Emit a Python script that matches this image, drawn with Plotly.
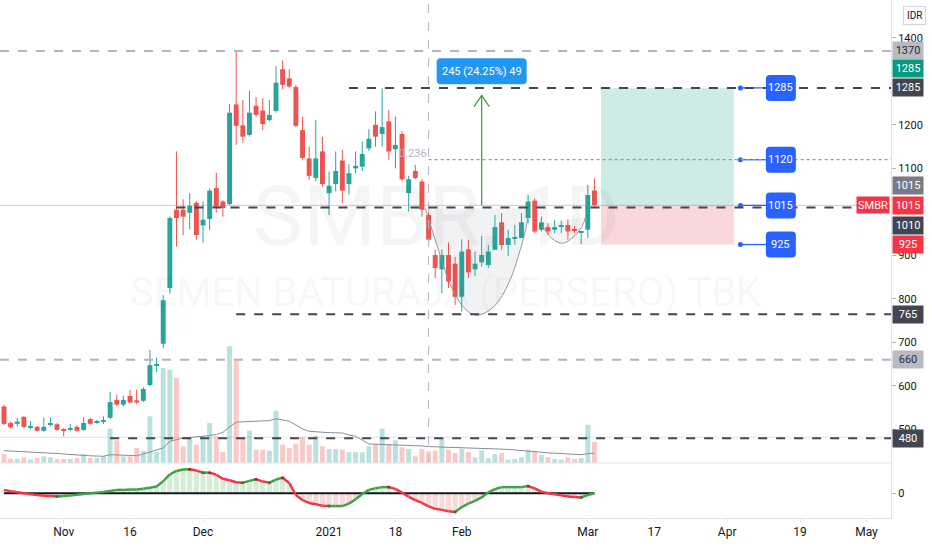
import plotly.graph_objects as go

# ---------------- data ----------------
opens = [553, 515, 513, 529, 504, 506, 497, 512, 512, 501, 500, 506, 499, 524, 516, 519, 527, 568, 557, 577,
         567, 566, 602, 646, 697, 825, 1005, 1005, 998, 1021, 969, 984, 1055, 1024, 1018, 1247, 1199, 1177, 1244, 1233,
         1211, 1232, 1328, 1307, 1287, 1188, 1123, 1078, 1139, 1043, 1064, 1118, 1064, 1100, 1104, 1146, 1200, 1179, 1208, 1144,
         1179, 1043, 1094, 1070, 993, 901, 868, 901, 881, 805, 914, 868, 884, 878, 913, 976, 924, 940, 940, 986,
         1026, 959, 965, 959, 966, 970, 960, 952, 959, 1049]
highs = [556, 518, 526, 531, 520, 508, 527, 527, 515, 503, 513, 510, 528, 527, 522, 530, 586, 580, 578, 591,
         591, 598, 683, 665, 809, 990, 1139, 1029, 1043, 1025, 1024, 1054, 1090, 1027, 1248, 1368, 1257, 1279, 1264, 1261,
         1257, 1335, 1348, 1328, 1292, 1219, 1150, 1211, 1173, 1093, 1139, 1143, 1110, 1139, 1162, 1190, 1231, 1284, 1234, 1219,
         1185, 1083, 1108, 1075, 1000, 914, 914, 930, 897, 937, 936, 909, 945, 924, 993, 997, 959, 970, 997, 1039,
         1032, 989, 974, 981, 980, 983, 968, 955, 1062, 1077]
lows = [510, 503, 507, 503, 501, 495, 495, 507, 497, 484, 497, 495, 497, 511, 513, 513, 524, 553, 553, 560,
        558, 563, 599, 632, 687, 812, 920, 947, 960, 936, 929, 958, 998, 989, 1015, 1154, 1159, 1173, 1218, 1188,
        1208, 1228, 1282, 1285, 1195, 1120, 1074, 1070, 1058, 993, 1047, 1020, 1039, 1089, 1094, 1140, 1150, 1150, 1120, 1100,
        1070, 1001, 1075, 989, 928, 848, 813, 825, 786, 771, 848, 852, 874, 871, 913, 913, 899, 924, 940, 974,
        951, 955, 947, 951, 951, 936, 951, 926, 940, 1012]
closes = [513, 505, 518, 506, 506, 497, 506, 514, 499, 497, 502, 497, 515, 513, 518, 521, 563, 557, 568, 562,
          562, 593, 648, 650, 797, 986, 986, 989, 1014, 947, 982, 1049, 1012, 1009, 1228, 1198, 1173, 1228, 1223, 1202,
          1223, 1297, 1292, 1288, 1198, 1124, 1083, 1123, 1064, 1060, 1094, 1049, 1089, 1106, 1133, 1168, 1173, 1195, 1139, 1154,
          1075, 1075, 1078, 1005, 936, 871, 901, 840, 805, 909, 861, 881, 901, 909, 965, 924, 940, 942, 976, 1024,
          955, 976, 955, 965, 969, 955, 958, 954, 1039, 1015]
volumes = [9, 4.3, 4.3, 5.7, 3.3, 5, 6.7, 5.7, 4, 4, 4, 5, 9, 5, 5, 6.7, 34.3, 22.7, 6.7, 6.7,
           15, 12.3, 46.7, 11, 95, 93.3, 85, 16.7, 24.3, 18.3, 26.7, 40, 26.7, 11, 116.7, 102.3, 25, 32.3, 13.3, 13.3,
           12.3, 52.3, 18.3, 15, 19, 26, 18.2, 27.3, 16.7, 14, 14, 13.3, 10.7, 10.7, 10.7, 16.7, 19, 34.3, 19, 22.7,
           15.7, 14, 6.7, 14, 11.7, 12.3, 25, 13.3, 10, 14.3, 11, 5.7, 12.7, 5, 9, 10, 3.3, 4, 5.7, 13.3,
           12.3, 8.3, 5.7, 4, 3.3, 5.7, 4, 5, 38.3, 21]
vol_ma = [12.3, 12, 11.7, 11.4, 11.2, 11, 10.5, 10, 9.5, 9, 8.3, 8, 7.6, 7.2, 7, 6.7, 8.3, 8, 7.6, 7.4,
          7.3, 9, 11, 12.5, 15, 21.7, 23, 25, 25.5, 26, 26.7, 27.5, 28.5, 30.7, 36, 40.7, 41.2, 41.7, 41.9, 42.1,
          42.3, 44.3, 43, 41.7, 38, 34, 31.7, 31, 30.5, 30.3, 30.2, 30, 28, 26.7, 23, 19, 18.8, 18.6, 18.5, 18.4,
          18.3, 17.8, 17.4, 17, 16.5, 16, 15.7, 15.6, 15.5, 15.3, 15.1, 15, 14.8, 14.6, 14.5, 14.3, 13.6, 13, 12.3, 11.7,
          11, 10.6, 10.2, 9.8, 9.4, 9, 8.6, 8.3, 9.5, 9.7]
osc = [10, 6, 3, 0, -3, -5, -7, -8, -9, -8, -6, -4, -2, 0, 2, 4, 7, 10, 10, 11,
       11, 13, 16, 20, 35, 55, 65, 69, 70, 66, 60, 60, 54, 42, 38, 32, 31, 36, 41, 34,
       31, 40, 45, 30, -5, -20, -28, -32, -36, -37, -37, -37, -30, -17, -2, 10, 15, 18, 18, 13,
       2, -10, -20, -28, -38, -45, -48, -52, -54, -40, -30, -22, -12, 3, 12, 18, 18, 18, 18, 21,
       14, 5, 0, -3, -6, -9, -11, -12, -5, 0]

tick_pos = [9, 19, 30, 49, 59, 69, 88, 98, 109, 120, 130]
tick_txt = ["Nov", "16", "Dec", "2021", "18", "Feb", "Mar", "17", "Apr", "19", "May"]
price_ticks = [500, 600, 700, 800, 900, 1100, 1200, 1400]

dark_levels = [1285, 1010, 765, 480]
dark_starts = [52, 26, 35, 16]
light_levels = [1370, 660]
fib_level = 1120
last_price = 1015
entry, target, stop = 1015, 1285, 925
pos_start, pos_end = 90, 110
target_levels = [1285, 1120, 1015, 925]
measure_text = "245 (24.25%) 49"
measure_bar = 72
measure_to = 1268
measure_label_y = 1323
cup_x = [63.5, 65.5, 67.2, 69.2, 71.0, 72.5, 74.3, 76.3, 77.5, 78.5, 79.2]
cup_y = [1008, 912, 836, 782, 763, 768, 790, 844, 897, 951, 1008]
handle_x = [81.0, 82.6, 84.2, 85.8, 87.1, 87.7]
handle_y = [972, 939, 928, 942, 966, 989]
vline_bar = 64

# ---------------- styling ----------------
FONT = "Roboto, Liberation Sans, sans-serif"
UP, DN = "#26a69a", "#ef5350"
UPV, DNV = "rgba(38,166,154,0.32)", "rgba(239,83,80,0.32)"
N = len(closes)
idx = list(range(N))
up = [c >= o for o, c in zip(opens, closes)]
X0, X1 = -0.6, 133.7
P0, P1 = 423, 1487
PANE = 0.1062
LABEL_BAR = 117.1


def rounded(w, h, r):
    a, b = w / 2, h / 2
    return (f"M {-a + r},{-b} L {a - r},{-b} Q {a},{-b} {a},{-b + r} L {a},{b - r} Q {a},{b} {a - r},{b} "
            f"L {-a + r},{b} Q {-a},{b} {-a},{b - r} L {-a},{-b + r} Q {-a},{-b} {-a + r},{-b} Z")


fig = go.Figure()

# volume
fig.add_trace(go.Bar(x=idx, y=volumes, width=0.75, yaxis="y2",
                     marker=dict(color=[UPV if u else DNV for u in up], line=dict(width=0))))
fig.add_trace(go.Scatter(x=idx, y=vol_ma, yaxis="y2", mode="lines",
                         line=dict(color="#8a8d96", width=1)))

# cup & handle drawings
fig.add_trace(go.Scatter(x=cup_x, y=cup_y, mode="lines", line=dict(color="#9598a1", width=1, shape="spline"),
                         fill="toself", fillcolor="rgba(120,123,134,0.10)"))
fig.add_trace(go.Scatter(x=handle_x, y=handle_y, mode="lines", line=dict(color="#9598a1", width=1, shape="spline"),
                         fill="toself", fillcolor="rgba(120,123,134,0.08)"))

# candles: wicks + bodies
for direction, col in ((True, UP), (False, DN)):
    wx, wy = [], []
    for i in idx:
        if up[i] == direction:
            wx += [i, i, None]
            wy += [lows[i], highs[i], None]
    fig.add_trace(go.Scatter(x=wx, y=wy, mode="lines", line=dict(color=col, width=1)))
    bx = [i for i in idx if up[i] == direction]
    fig.add_trace(go.Bar(x=bx, y=[max(abs(closes[i] - opens[i]), 2.5) for i in bx],
                         base=[min(opens[i], closes[i]) for i in bx], width=0.74,
                         marker=dict(color=col, line=dict(width=0))))

# oscillator pane
fig.add_trace(go.Bar(x=idx, y=osc, yaxis="y3", width=0.8,
                     marker=dict(color=["rgba(76,175,80,0.22)" if v >= 0 else "rgba(239,83,80,0.22)" for v in osc],
                                 line=dict(width=0))))
fig.add_trace(go.Scatter(x=[0, N - 1], y=[0, 0], yaxis="y3", mode="lines", line=dict(color="#131722", width=2)))
gx, gy, rx, ry = [], [], [], []
turn_x, turn_y, turn_c = [], [], []
prev_rise = None
for i in range(1, N):
    rise = osc[i] >= osc[i - 1]
    if rise:
        gx += [i - 1, i, None]; gy += [osc[i - 1], osc[i], None]
    else:
        rx += [i - 1, i, None]; ry += [osc[i - 1], osc[i], None]
    if prev_rise is not None and rise != prev_rise:
        turn_x.append(i - 1); turn_y.append(osc[i - 1]); turn_c.append("#2e7d32" if rise else "#b71c1c")
    prev_rise = rise
fig.add_trace(go.Scatter(x=gx, y=gy, yaxis="y3", mode="lines", line=dict(color="#43a047", width=2.5)))
fig.add_trace(go.Scatter(x=rx, y=ry, yaxis="y3", mode="lines", line=dict(color="#f23645", width=2.5)))
fig.add_trace(go.Scatter(x=turn_x, y=turn_y, yaxis="y3", mode="markers",
                         marker=dict(color=turn_c, size=3)))

# measurement arrow
fig.add_trace(go.Scatter(x=[measure_bar, measure_bar], y=[entry, measure_to], mode="lines",
                         line=dict(color="#43a047", width=1.3)))
fig.add_trace(go.Scatter(x=[measure_bar - 1.15, measure_bar, measure_bar + 1.15],
                         y=[measure_to - 26, measure_to, measure_to - 26], mode="lines",
                         line=dict(color="#43a047", width=1.3)))

# blue target connectors
for lv in target_levels:
    fig.add_trace(go.Scatter(x=[111, 115], y=[lv, lv], mode="lines", line=dict(color="#2962ff", width=1.3)))
fig.add_trace(go.Scatter(x=[111] * len(target_levels), y=target_levels, mode="markers",
                         marker=dict(color="#2962ff", size=5)))

shapes = []
# position tool
shapes.append(dict(type="rect", xref="x", yref="y", x0=pos_start, x1=pos_end, y0=entry, y1=target,
                   fillcolor="rgba(8,153,129,0.2)", line=dict(width=0), layer="below"))
shapes.append(dict(type="rect", xref="x", yref="y", x0=pos_start, x1=pos_end, y0=stop, y1=entry,
                   fillcolor="rgba(242,54,69,0.2)", line=dict(width=0), layer="below"))
# price line
shapes.append(dict(type="line", xref="x", yref="y", x0=X0, x1=X1, y0=last_price, y1=last_price,
                   line=dict(color="rgba(242,54,69,0.35)", width=1), layer="below"))
shapes.append(dict(type="line", xref="x", yref="y", x0=X0, x1=X1, y0=482, y1=482,
                   line=dict(color="#dfe1e6", width=1), layer="below"))
# vertical dashed line
shapes.append(dict(type="line", xref="x", yref="paper", x0=vline_bar, x1=vline_bar, y0=PANE, y1=1,
                   line=dict(color="#b2b5be", width=1, dash="dash")))
for lv in light_levels:
    shapes.append(dict(type="line", xref="x", yref="y", x0=X0, x1=X1, y0=lv, y1=lv,
                       line=dict(color="#b2b5be", width=2, dash="dash")))
for lv, st in zip(dark_levels, dark_starts):
    shapes.append(dict(type="line", xref="x", yref="y", x0=st, x1=X1, y0=lv, y1=lv,
                       line=dict(color="#434651", width=2, dash="dash")))
shapes.append(dict(type="line", xref="x", yref="y", x0=vline_bar, x1=X1, y0=fib_level, y1=fib_level,
                   line=dict(color="#9598a1", width=1.3, dash="dot")))
# pane separator
shapes.append(dict(type="line", xref="paper", yref="paper", x0=0, x1=1, y0=PANE, y1=PANE,
                   line=dict(color="#e0e3eb", width=1)))
# rounded label boxes
for lv in target_levels:
    shapes.append(dict(type="path", xref="x", yref="y", xsizemode="pixel", ysizemode="pixel",
                       xanchor=LABEL_BAR, yanchor=lv, path=rounded(30, 26, 4),
                       fillcolor="#2962ff", line=dict(width=0)))
shapes.append(dict(type="path", xref="x", yref="y", xsizemode="pixel", ysizemode="pixel",
                   xanchor=measure_bar, yanchor=measure_label_y, path=rounded(90, 26, 4),
                   fillcolor="#2196f3", line=dict(width=0)))

annotations = []
# watermark
annotations.append(dict(xref="paper", yref="paper", x=0.49, y=1 - 165 / 518, text="SMBR, 1D", showarrow=False,
                        font=dict(family=FONT, size=84, color="rgba(19,23,34,0.045)")))
annotations.append(dict(xref="paper", yref="paper", x=0.5, y=1 - 292 / 518, text="SEMEN BATURAJA (PERSERO) TBK",
                        showarrow=False, font=dict(family=FONT, size=40, color="rgba(19,23,34,0.045)")))
# fib label
annotations.append(dict(xref="x", yref="y", x=61.7, y=1135, text="0.236", showarrow=False,
                        font=dict(family=FONT, size=11, color="#b2b5be")))
# measurement label
annotations.append(dict(xref="x", yref="y", x=measure_bar, y=measure_label_y, text=measure_text, showarrow=False,
                        font=dict(family=FONT, size=11, color="white")))
# blue target labels
for lv in target_levels:
    annotations.append(dict(xref="x", yref="y", x=LABEL_BAR, y=lv, text=str(lv), showarrow=False,
                            font=dict(family=FONT, size=11, color="white")))
# SMBR tag
annotations.append(dict(xref="paper", yref="y", x=1, y=last_price, xanchor="right", xshift=-1, text="SMBR",
                        showarrow=False, bgcolor="#f23645", width=30, height=14, borderpad=1,
                        font=dict(family=FONT, size=11, color="white")))
# axis tags
tag_values = [1370, 1285, 1285, 1015, 1015, 1010, 925, 765, 660, 480]
tag_bg = ["#b8bbc2", "#089981", "#434651", "#787b86", "#f23645", "#434651", "#f23645", "#434651", "#b8bbc2", "#434651"]
tag_fg = ["#2a2e39", "white", "white", "white", "white", "white", "white", "white", "#2a2e39", "white"]
tag_shift = [0, 19, 0, 20, 0, -18, 0, 0, 0, 0]
for v, bg, fg, ys in zip(tag_values, tag_bg, tag_fg, tag_shift):
    annotations.append(dict(xref="paper", yref="y", x=1, y=v, xanchor="left", xshift=1, yshift=ys,
                            text=str(v), showarrow=False, bgcolor=bg, width=28, height=15, borderpad=1,
                            font=dict(family=FONT, size=11, color=fg)))
annotations.append(dict(xref="paper", yref="paper", x=1, y=1, xanchor="left", yanchor="top", xshift=12, yshift=-6,
                        text="IDR", showarrow=False, bgcolor="white", bordercolor="#d1d4dc", borderwidth=1,
                        borderpad=3, font=dict(family=FONT, size=10, color="#131722")))

fig.update_layout(
    width=932, height=550, margin=dict(l=0, r=41, t=0, b=32),
    plot_bgcolor="white", paper_bgcolor="white", showlegend=False, barmode="overlay",
    font=dict(family=FONT, size=11, color="#131722"),
    shapes=shapes, annotations=annotations,
    xaxis=dict(range=[X0, X1], anchor="y3", tickvals=tick_pos, ticktext=tick_txt, showgrid=False,
               zeroline=False, showline=True, linecolor="#e0e3eb", ticks="outside", ticklen=3,
               tickcolor="#e0e3eb", tickfont=dict(size=12, color="#131722")),
    yaxis=dict(domain=[PANE, 1], range=[P0, P1], side="right", anchor="x", tickvals=price_ticks,
               showgrid=False, zeroline=False, showline=True, linecolor="#e0e3eb", ticks="outside",
               ticklen=4, tickcolor="#b2b5be", tickfont=dict(size=11, color="#131722")),
    yaxis2=dict(overlaying="y", range=[0, 463], visible=False),
    yaxis3=dict(domain=[0, PANE], range=[-71.6, 88], side="right", anchor="x", tickvals=[0], ticktext=["0"],
                showgrid=False, zeroline=False, showline=True, linecolor="#e0e3eb", ticks="outside",
                ticklen=4, tickcolor="#b2b5be", tickfont=dict(size=11, color="#131722")),
)

fig.write_html("out.html", config={"displayModeBar": False},
               post_script="document.body.style.margin='0px';document.body.style.padding='0px';")
